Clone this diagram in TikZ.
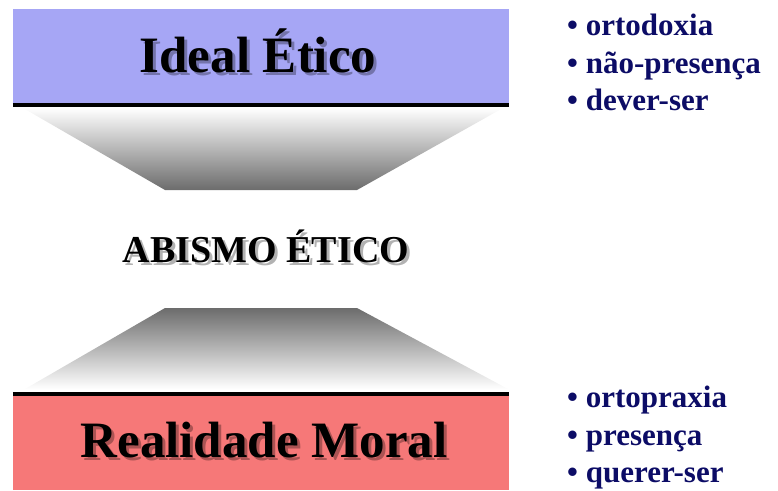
\documentclass[tikz,border=0pt]{standalone}
\usepackage{fontspec}
\setmainfont{Liberation Serif}
\usetikzlibrary{positioning}

\definecolor{bleuideal}{RGB}{166,166,245}
\definecolor{rougereal}{RGB}{246,120,120}
\definecolor{grisabime}{RGB}{108,108,108}
\definecolor{marine}{RGB}{12,12,102}

\begin{document}
\begin{tikzpicture}[x=1pt, y=-1pt]
	\tikzset{bloc/.style={rectangle, inner sep=0pt, minimum width=496pt, minimum height=96pt},
		trait/.style={line width=3.5pt, black},
		titre/.style={anchor=base, inner sep=0pt, font=\bfseries\fontsize{51}{60}\selectfont},
		ombre/.style={titre, text=black, opacity=0.3},
		liste/.style={anchor=base west, inner sep=0pt, text=marine, font=\bfseries\fontsize{31}{36}\selectfont}};

	\useasboundingbox (0,0) rectangle (778,490);

	\node[bloc, fill=bleuideal] (ideal) at (261,57) {};
	\node[bloc, fill=rougereal] (real)  at (261,442) {};

	\shade[top color=white, bottom color=grisabime] (23,108) -- (503,108) -- (357,190) -- (165,190) -- cycle;
	\shade[top color=grisabime, bottom color=white] (165,308) -- (357,308) -- (508,389) -- (25,389) -- cycle;

	\draw[trait] (ideal.south west) -- (ideal.south east);
	\draw[trait] (real.north west)  -- (real.north east);

	\node[ombre] (ideal-o) at (261,75) {Ideal Ético};
	\node[titre] (ideal-t) at (258,72) {Ideal Ético};
	\node[ombre, font=\bfseries\fontsize{38}{46}\selectfont] (abime-o) at (269,265) {ABISMO ÉTICO};
	\node[titre, font=\bfseries\fontsize{38}{46}\selectfont] (abime-t) at (266,262) {ABISMO ÉTICO};
	\node[ombre] (real-o) at (267,460) {Realidade Moral};
	\node[titre] (real-t) at (264,457) {Realidade Moral};

	\node[liste] (l1) at (567, 35) {• ortodoxia};
	\node[liste] (l2) at (567, 73) {• não-presença};
	\node[liste] (l3) at (567,110) {• dever-ser};

	\node[liste] (l4) at (567,407) {• ortopraxia};
	\node[liste] (l5) at (567,445) {• presença};
	\node[liste] (l6) at (567,482) {• querer-ser};

\end{tikzpicture}
\end{document}
